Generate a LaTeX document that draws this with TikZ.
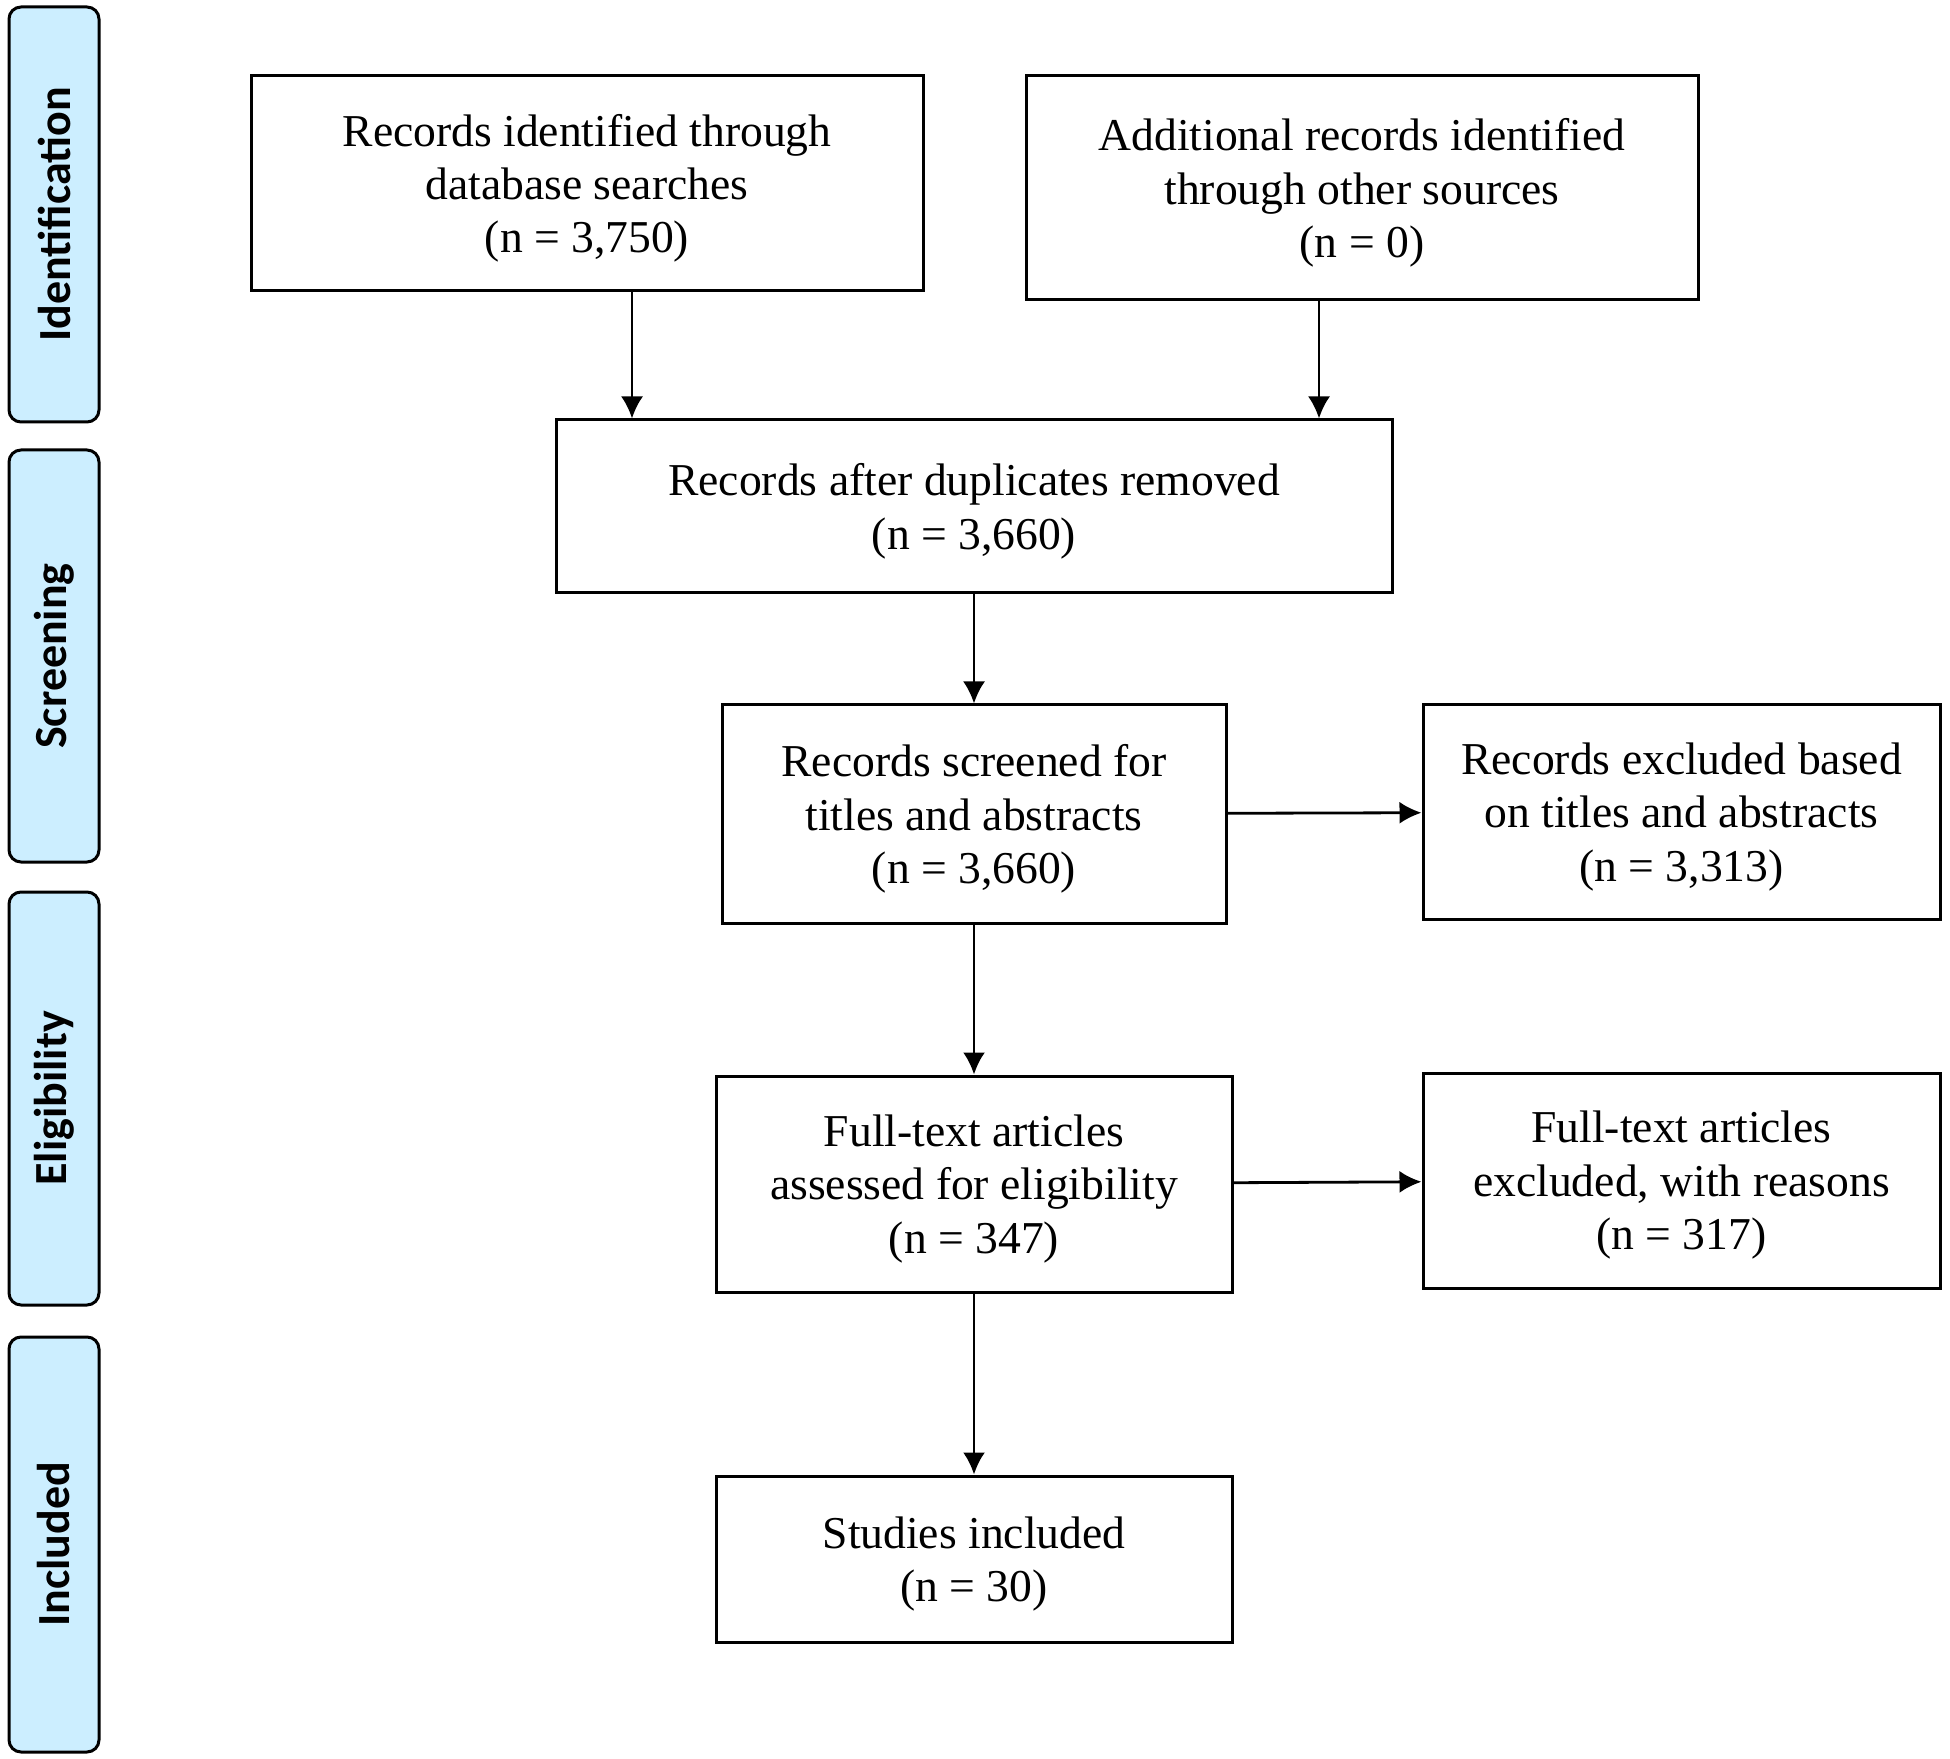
\documentclass[tikz,border=0pt]{standalone}
\usepackage{fontspec}
\setmainfont{Liberation Serif}
\newfontfamily\sidefont{Carlito}
\usetikzlibrary{arrows.meta}
\definecolor{sideblue}{HTML}{CCEEFF}
\begin{document}
\begin{tikzpicture}[x=0.5pt,y=-0.5pt,>={Latex[length=11pt,width=11pt]},
    box/.style={draw,line width=1.5pt,align=center,font=\fontsize{22.8}{26.7}\selectfont,
        inner sep=0pt,text depth=0pt},
    phase/.style={draw,line width=1.5pt,fill=sideblue,rounded corners=6pt,rotate=90,
        minimum height=45pt,font=\sidefont\bfseries\fontsize{23}{26}\selectfont},
    arr/.style={->,line width=1.4pt}]
\useasboundingbox (0,0) rectangle (1950,1759);

\node[phase,minimum width=207.5pt] (id) at (54,214.5){Identification};
\node[phase,minimum width=206pt] (scr) at (54,656){Screening};
\node[phase,minimum width=206.5pt] (elig) at (54,1098.5){Eligibility};
\node[phase,minimum width=207.5pt] (incl) at (54,1544.5){Included};

\node[box,minimum width=336pt,minimum height=107.5pt] (db) at (587,183.5)
    {Records identified through\\database searches\\(n = 3,750)};
\node[box,minimum width=336pt,minimum height=112pt] (other) at (1362,188)
    {Additional records identified\\through other sources\\(n = 0)};
\node[box,minimum width=418pt,minimum height=86.5pt] (dup) at (974,506.5)
    {Records after duplicates removed\\(n = 3,660)};
\node[box,minimum width=252pt,minimum height=109pt] (screen) at (974,814)
    {Records screened for\\titles and abstracts\\(n = 3,660)};
\node[box,minimum width=258.5pt,minimum height=107pt] (excl) at (1681.5,812)
    {Records excluded based\\on titles and abstracts\\(n = 3,313)};
\node[box,minimum width=258pt,minimum height=108pt] (full) at (974,1184)
    {Full-text articles\\assessed for eligibility\\(n = 347)};
\node[box,minimum width=258.5pt,minimum height=107.5pt] (fexcl) at (1681.5,1180.5)
    {Full-text articles\\excluded, with reasons\\(n = 317)};
\node[box,minimum width=258pt,minimum height=83pt] (incl2) at (974,1559)
    {Studies included\\(n = 30)};

\coordinate (a1) at (632,0);
\coordinate (a2) at (1319,0);
\draw[arr] (db.south -| a1) -- (dup.north -| a1);
\draw[arr] (other.south -| a2) -- (dup.north -| a2);
\draw[arr] (dup) -- (screen);
\draw[arr] (screen) -- (excl);
\draw[arr] (screen) -- (full);
\draw[arr] (full) -- (fexcl);
\draw[arr] (full) -- (incl2);

\end{tikzpicture}
\end{document}
